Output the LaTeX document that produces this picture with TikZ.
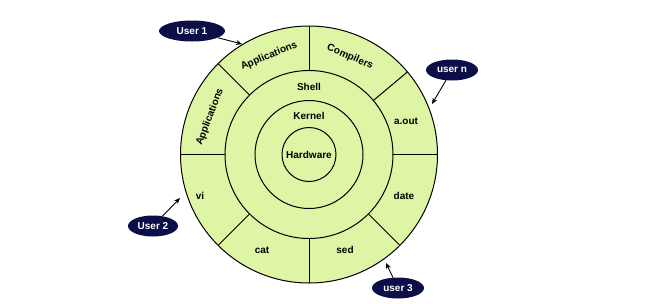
\documentclass[tikz,border=0pt]{standalone}
\usepackage{fontspec}
\setmainfont{Liberation Sans}
\usetikzlibrary{arrows.meta,shapes.geometric,calc}
\definecolor{ringfill}{RGB}{221,245,164}
\definecolor{navy}{RGB}{12,14,72}
\tikzset{
  lbl/.style={font=\bfseries\fontsize{10}{12}\selectfont, inner sep=0pt},
  user/.style={ellipse, fill=navy, text=white, font=\bfseries\fontsize{10}{12}\selectfont, minimum width=#1, minimum height=21pt, inner sep=0pt},
  ring/.style={draw=black, line width=1pt},
  uarrow/.style={-{Stealth[length=6pt,width=5pt]}, line width=0.9pt, black}
}
\begin{document}
\begin{tikzpicture}[x=1pt,y=-1pt]
\useasboundingbox (0,0) rectangle (650,303);
\coordinate (c) at (309,154.5);
% rings
\fill[ringfill] (c) circle[radius=128.5];
\draw[ring] (c) circle[radius=128.5];
\draw[ring] (c) circle[radius=84];
\draw[ring] (c) circle[radius=54];
\draw[ring] (c) circle[radius=27];
% dividers (y axis flipped: use negative angles for math-up angles)
\foreach \a in {0,-40,-90,-135,-180,-225,-270,-315}{
  \draw[ring] ($(c)+(\a:84)$) -- ($(c)+(\a:128.5)$);
}
% labels
\node[lbl] (shell) at (309,87) {Shell};
\node[lbl] (kernel) at (309,116) {Kernel};
\node[lbl] (hw) at (309,155) {Hardware};
\node[lbl, rotate=22.5] (app1) at (269,56) {Applications};
\node[lbl, rotate=-23] (comp) at (350,57) {Compilers};
\node[lbl, rotate=69] (app2) at (210,117) {Applications};
\node[lbl] (aout) at (406,121) {a.out};
\node[lbl] (date) at (404,196) {date};
\node[lbl] (sed) at (345,250) {sed};
\node[lbl] (cat) at (262,250) {cat};
\node[lbl] (vi) at (200,196) {vi};
% users
\node[user=66pt] (u1) at (192,31) {User 1};
\node[user=52pt] (un) at (452,70) {user n};
\node[user=50pt] (u2) at (153,226) {User 2};
\node[user=52pt] (u3) at (398,288) {user 3};
\coordinate (t1) at (242,44);
\coordinate (tn) at (432,104);
\coordinate (t2) at (180,198);
\coordinate (t3) at (386,263);
\draw[uarrow] (u1) -- (t1);
\draw[uarrow] (un) -- (tn);
\draw[uarrow] (u2) -- (t2);
\draw[uarrow] (u3) -- (t3);
\end{tikzpicture}
\end{document}
